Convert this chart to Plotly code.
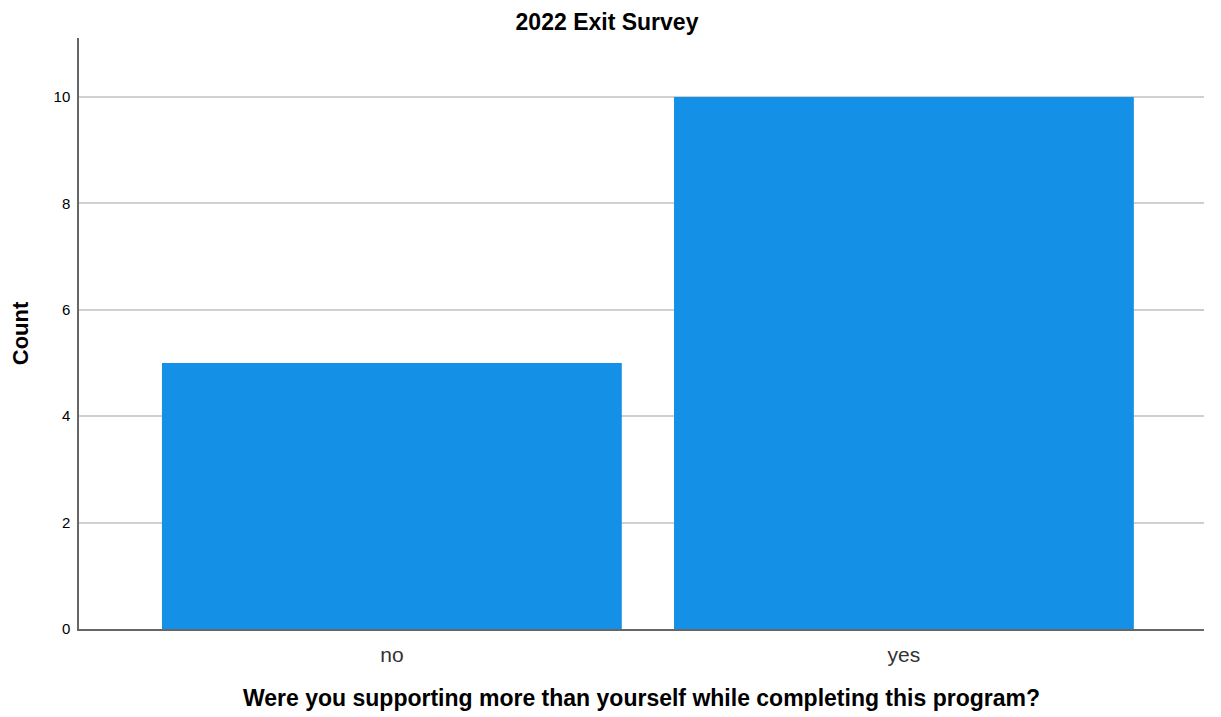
import plotly.graph_objects as go

categories = ["no", "yes"]
counts = [5, 10]
y_tick_vals = [0, 2, 4, 6, 8, 10]

W, H = 1213, 709

fig = go.Figure()
fig.add_trace(go.Bar(
    x=[0, 1], y=counts, width=0.898,
    marker=dict(color="#1490E6", line=dict(width=0)),
    hoverinfo="skip",
))

fig.update_layout(
    width=W, height=H,
    margin=dict(l=71, r=17, t=30, b=88),
    paper_bgcolor="white", plot_bgcolor="white",
    showlegend=False,
    font=dict(family="Liberation Sans, Arial, sans-serif", color="#000"),
    title=dict(text="<b>2022 Exit Survey</b>", x=(607 - 8) / W, xanchor="center",
               y=1 - 14 / H, yanchor="middle", font=dict(size=23)),
)
fig.update_xaxes(
    range=[-0.611, 1.586], tickvals=[0, 1], ticktext=categories,
    showline=True, linecolor="#666", linewidth=1.5, showgrid=False,
    ticks="", tickfont=dict(size=21, color="#333"), zeroline=False,
    ticklabelstandoff=6, automargin=False,
    title=dict(text="<b>Were you supporting more than yourself while completing this program?</b>",
               font=dict(size=23), standoff=25),
)
fig.update_yaxes(
    range=[0, 11.11], tickvals=y_tick_vals,
    showline=True, linecolor="#666", linewidth=1.5,
    showgrid=True, gridcolor="#d0d0d0", gridwidth=1.5,
    ticks="", tickfont=dict(size=15), zeroline=False,
    ticklabelstandoff=4, automargin=False,
    title=dict(text="<b>Count</b>", font=dict(size=22), standoff=20),
)

fig.write_html("out.html")
